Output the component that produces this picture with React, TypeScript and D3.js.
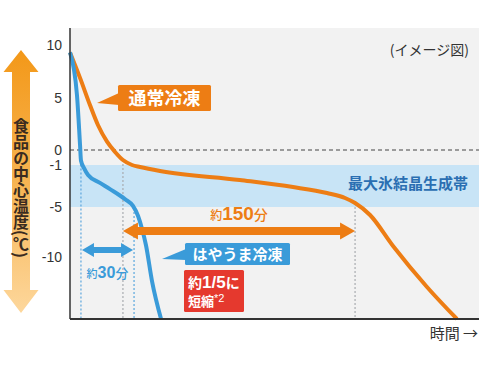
import React from "react";
import * as d3 from "d3";

// ---- data ----
const yTicks = [10, 5, 0, -1, -5, -10];
const blueTime = [0, 4.5, 6.5, 7.1, 9.1, 11.7, 19.4, 25.9, 35.6, 40.8, 44.1, 46.6, 49.2, 53.1, 59];
const blueTemp = [9.3, 5.3, 0.5, -0.7, -1.3, -1.95, -2.7, -3.3, -4.25, -4.9, -5.9, -7.15, -8.8, -12.3, -16];
const orangeTime = [0, 6.5, 13, 18.1, 24, 29.2, 34.3, 40.2, 45.4, 58.3, 110, 144.5, 166.5, 178.2, 184.7, 194.4, 209.3, 231.3, 250.7];
const orangeTemp = [9.3, 6.9, 4.3, 2.4, 0.8, -0.13, -0.67, -1.0, -1.19, -1.57, -2.43, -3.1, -3.67, -4.14, -4.62, -5.8, -8.9, -12.9, -16];
const bandTop = -1;
const bandBottom = -5;
const blueZone = [7.1, 41.5];
const orangeZone = [34.3, 184.7];
const orangeZoneLabel = "150";
const blueZoneLabel = "30";

const W = 490;
const H = 368;

const x = d3.scaleLinear().domain([0, 265]).range([70, 479]);
const y = d3.scaleLinear().domain([10, 5, 0, -1, -5, -10, -16]).range([45, 98, 150, 165, 207, 257, 319]);

const ORANGE = "#ed7d14";
const BLUE = "#3a9bd9";
const JP = "'Noto Sans CJK JP', 'Noto Sans', sans-serif";
const LAT = "'Liberation Sans', Arial, sans-serif";

function dblArrow(x1: number, x2: number, yc: number, s: number, h: number, L: number) {
  return [
    [x1, yc], [x1 + L, yc - h], [x1 + L, yc - s], [x2 - L, yc - s], [x2 - L, yc - h],
    [x2, yc], [x2 - L, yc + h], [x2 - L, yc + s], [x1 + L, yc + s], [x1 + L, yc + h],
  ].map((p) => p.join(",")).join(" ");
}

export default function App() {
  const line = d3.line<[number, number]>().x((d) => x(d[0])).y((d) => y(d[1])).curve(d3.curveMonotoneX);
  const bluePts = blueTime.map((t, i) => [t, blueTemp[i]] as [number, number]);
  const orangePts = orangeTime.map((t, i) => [t, orangeTemp[i]] as [number, number]);
  const interp = (times: number[], temps: number[], t: number) => {
    for (let i = 1; i < times.length; i++) {
      if (t <= times[i]) {
        const f = (t - times[i - 1]) / (times[i] - times[i - 1]);
        return temps[i - 1] + f * (temps[i] - temps[i - 1]);
      }
    }
    return temps[temps.length - 1];
  };
  const x0 = x.range()[0];
  const x1 = x.range()[1];
  const yBottom = y(-16);
  const yTop = 28;

  const dotted = [
    { t: blueZone[0], c: "#5aa6dd", v: interp(blueTime, blueTemp, blueZone[0]) },
    { t: orangeZone[0], c: "#a8acb0", v: interp(orangeTime, orangeTemp, orangeZone[0]) },
    { t: blueZone[1], c: "#5aa6dd", v: interp(blueTime, blueTemp, blueZone[1]) },
    { t: orangeZone[1], c: "#a8acb0", v: interp(orangeTime, orangeTemp, orangeZone[1]) },
  ];

  const oArrowY = y(-7.4);
  const bArrowY = y(-9.3);

  return (
    <svg width={W} height={H} style={{ position: "absolute", left: 0, top: 0, background: "#fff" }}>
      <defs>
        <linearGradient id="axg" x1="0" y1="0" x2="0" y2="1">
          <stop offset="0" stopColor="#f39818" />
          <stop offset="0.5" stopColor="#f7b452" />
          <stop offset="1" stopColor="#fdd79c" />
        </linearGradient>
      </defs>
      {/* plot background */}
      <rect x={x0} y={yTop} width={x1 - x0} height={yBottom - yTop} fill="#f2f2f2" />
      <rect x={x0} y={y(bandTop)} width={x1 - x0} height={y(bandBottom) - y(bandTop)} fill="#c8e4f6" />
      {/* zero dashed */}
      <line x1={x0} x2={x1} y1={y(0)} y2={y(0)} stroke="#444" strokeWidth={1} strokeDasharray="4,3" />
      {/* dotted guides */}
      {dotted.map((d, i) => (
        <line key={i} x1={x(d.t)} x2={x(d.t)} y1={y(d.v)} y2={yBottom} stroke={d.c} strokeWidth={1.2} strokeDasharray="2,2" />
      ))}
      {/* curves */}
      <path d={line(orangePts) || ""} fill="none" stroke={ORANGE} strokeWidth={4} strokeLinejoin="round" />
      <path d={line(bluePts) || ""} fill="none" stroke={BLUE} strokeWidth={4} strokeLinejoin="round" />
      {/* axes */}
      <line x1={x0} x2={x0} y1={yTop} y2={yBottom} stroke="#333" strokeWidth={1.5} />
      <line x1={x0} x2={x1} y1={yBottom} y2={yBottom} stroke="#333" strokeWidth={2} />
      {yTicks.map((v) => (
        <text key={v} x={62} y={y(v)} textAnchor="end" dominantBaseline="central" fontFamily={LAT} fontSize={14} fill="#333">
          {v}
        </text>
      ))}
      {/* big vertical arrow */}
      <polygon
        points="21,50 38.5,72 30,72 30,290 38.5,290 21,313 3.5,290 12,290 12,72 3.5,72"
        fill="url(#axg)"
      />
      <text
        x={21}
        y={118}
        fontFamily={JP}
        fontSize={16}
        fontWeight={700}
        fill="#3a2b20"
        style={{ writingMode: "vertical-rl", textOrientation: "mixed" } as any}
      >
        食品の中心温度(℃)
      </text>
      {/* image note */}
      <text x={469} y={55} textAnchor="end" fontFamily={JP} fontSize={14} fill="#333">(イメージ図)</text>
      {/* band label */}
      <text x={468} y={189} textAnchor="end" fontFamily={JP} fontSize={15} fontWeight={700} fill="#2b6fb2">最大氷結晶生成帯</text>
      {/* normal freeze callout */}
      <polygon points="119,93 119,105 97,103" fill={ORANGE} />
      <rect x={118} y={85} width={93} height={26} rx={1.5} fill={ORANGE} />
      <text x={164.5} y={105} textAnchor="middle" fontFamily={JP} fontSize={18} fontWeight={700} fill="#fff">通常冷凍</text>
      {/* orange arrow */}
      <polygon points={dblArrow(x(orangeZone[0]), x(orangeZone[1]), oArrowY, 4, 8.5, 15)} fill={ORANGE} />
      <text x={(x(orangeZone[0]) + x(orangeZone[1])) / 2} y={220} textAnchor="middle" fill={ORANGE} fontWeight={700}>
        <tspan fontFamily={JP} fontSize={12} fontWeight={500}>約</tspan>
        <tspan fontFamily={LAT} fontSize={19}>{orangeZoneLabel}</tspan>
        <tspan fontFamily={JP} fontSize={14} fontWeight={500}>分</tspan>
      </text>
      {/* blue arrow */}
      <polygon points={dblArrow(x(blueZone[0]) + 1, x(blueZone[1]) - 1, bArrowY, 3, 7, 12)} fill={BLUE} />
      <text x={(x(blueZone[0]) + x(blueZone[1])) / 2} y={278} textAnchor="middle" fill={BLUE} fontWeight={700}>
        <tspan fontFamily={JP} fontSize={11} fontWeight={500}>約</tspan>
        <tspan fontFamily={LAT} fontSize={16}>{blueZoneLabel}</tspan>
        <tspan fontFamily={JP} fontSize={13} fontWeight={500}>分</tspan>
      </text>
      {/* hayauma callout */}
      <polygon points="186,249 186,260 162,259" fill={BLUE} />
      <rect x={185} y={243} width={105} height={22} rx={1.5} fill={BLUE} />
      <text x={237.5} y={260} textAnchor="middle" fontFamily={JP} fontSize={15} fontWeight={700} fill="#fff">はやうま冷凍</text>
      {/* red box */}
      <rect x={184} y={270} width={60} height={42} rx={1.5} fill="#e5392e" />
      <text x={188} y={288} fill="#fff" fontWeight={700}>
        <tspan fontFamily={JP} fontSize={14}>約</tspan>
        <tspan fontFamily={LAT} fontSize={17}>1/5</tspan>
        <tspan fontFamily={JP} fontSize={14}>に</tspan>
      </text>
      <text x={188} y={306} fill="#fff" fontWeight={700}>
        <tspan fontFamily={JP} fontSize={13}>短縮</tspan>
        <tspan fontFamily={LAT} fontSize={11} fontWeight={400} dy={-4}>*2</tspan>
      </text>
      {/* x label */}
      <text x={478} y={339} textAnchor="end" fontFamily={JP} fontSize={15} fill="#333">時間 →</text>
    </svg>
  );
}
